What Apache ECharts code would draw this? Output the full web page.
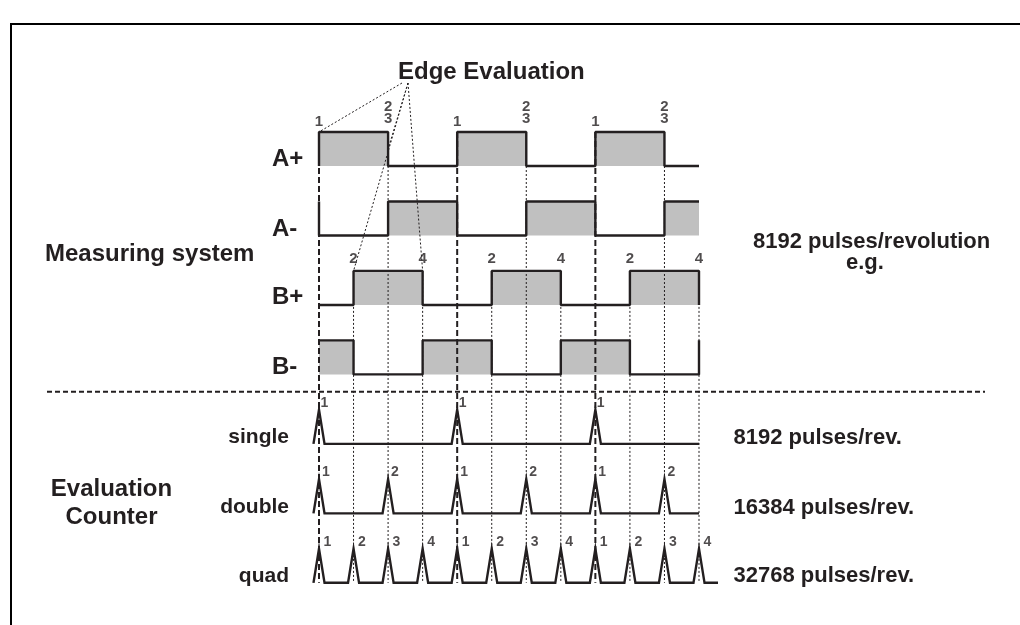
<!DOCTYPE html>
<html><head><meta charset="utf-8">
<script src="https://cdn.jsdelivr.net/npm/echarts@6/dist/echarts.min.js"></script>
<style>html,body{margin:0;padding:0;background:#fff}#c{width:1020px;height:625px}</style>
</head><body><div id="c"></div>
<script>
// ---- data (time in edge units; each unit = one quarter of a signal period) ----
const edgeTimes = [0,1,2,3,4,5,6,7,8,9,10,11];
// signal states: first = state before t=0, then intervals [0,1) ... [10,11), last = state after t=11
const aPlus  = [0, 1,1,0,0,1,1,0,0,1,1,0, 0];
const aMinus = [1, 0,0,1,1,0,0,1,1,0,0,1, 1];
const bPlus  = [0, 0,1,1,0,0,1,1,0,0,1,1, 0];
const bMinus = [1, 1,0,0,1,1,0,0,1,1,0,0, 1];
const signalNames = ['A+','A-','B+','B-'];
const aPlusEdgeTimes  = [0,2,4,6,8,10];
const aPlusEdgeLabels = ['1','2\n3','1','2\n3','1','2\n3'];
const bPlusEdgeTimes  = [1,3,5,7,9,11];
const bPlusEdgeLabels = ['2','4','2','4','2','4'];
const singlePulses = [0,4,8];
const doublePulses = [0,2,4,6,8,10];
const quadPulses   = [0,1,2,3,4,5,6,7,8,9,10,11];
const singleLabels = ['1','1','1'];
const doubleLabels = ['1','2','1','2','1','2'];
const quadLabels   = ['1','2','3','4','1','2','3','4','1','2','3','4'];
const pulseRowEnds = [11, 11, 11.55];
const counterModes = ['single','double','quad'];
const counterRates = ['8192 pulses/rev.','16384 pulses/rev.','32768 pulses/rev.'];
const systemRate = ['8192 pulses/revolution','e.g.'];

// ---- layout / style ----
const HIGH = 0.49;          // signal amplitude in row units
const PW = 0.16;            // half width of a counter pulse
const INK = '#231f20';
const GRAY = '#c0c0c0';
const FONT = "'Liberation Sans', Arial, sans-serif";

function signalPath(states, row){
  const lvl = s => row - s*HIGH;
  const pts = [];
  if (states[0] !== states[1]) pts.push([0, lvl(states[0])]);
  for (let i = 0; i < 11; i++){
    pts.push([edgeTimes[i], lvl(states[i+1])]);
    pts.push([edgeTimes[i] + 1, lvl(states[i+1])]);
  }
  if (states[12] !== states[11]) pts.push([11, lvl(states[12])]);
  return pts;
}
function fillRects(states, row){
  const out = [];
  let start = null;
  for (let i = 0; i < 11; i++){
    const s = states[i+1];
    if (s && start === null) start = i;
    if ((!s || i === 10) && start !== null){
      out.push([start, s && i === 10 ? 11 : i, row]);
      start = null;
    }
  }
  return out;
}
function pulsePath(times, row, end){
  const pts = [];
  times.forEach(t => {
    pts.push([t - PW, row]); pts.push([t, row - HIGH]); pts.push([t + PW, row]);
  });
  pts.push([end, row]);
  return pts;
}

const signals = [aPlus, aMinus, bPlus, bMinus];
const fills = [];
signals.forEach((s, r) => fills.push(...fillRects(s, r)));

// vertical guide lines [t, top, bottom, kind]
const guides = edgeTimes.map(t => {
  if (t % 4 === 0) return [t, -HIGH, 6, 0];
  if (t % 2 === 0) return [t, 0, 6, 1];
  return [t, 2 - HIGH, 6, 1];
});

const series = [];
series.push({
  type: 'custom', z: 1, data: fills, clip: false,
  renderItem: (p, api) => {
    const a = api.coord([api.value(0), api.value(2) - HIGH]);
    const b = api.coord([api.value(1), api.value(2)]);
    return {type: 'rect', shape: {x: a[0], y: a[1], width: b[0]-a[0], height: b[1]-a[1]}, style: {fill: GRAY}};
  }
});
series.push({
  type: 'custom', z: 2, data: guides, clip: false,
  renderItem: (p, api) => {
    const a = api.coord([api.value(0), api.value(1)]);
    const b = api.coord([api.value(0), api.value(2)]);
    const thick = api.value(3) === 0;
    return {type: 'line', shape: {x1: a[0], y1: a[1], x2: b[0], y2: b[1]},
      style: {stroke: INK, lineWidth: thick ? 2 : 1, lineDash: thick ? [6, 3] : [2, 2]}};
  }
});
signals.forEach((s, r) => series.push({
  type: 'line', name: signalNames[r], data: signalPath(s, r), symbol: 'none', clip: false, z: 5,
  lineStyle: {color: INK, width: 2.4}
}));
[[singlePulses, singleLabels], [doublePulses, doubleLabels], [quadPulses, quadLabels]].forEach(([times, labels], k) => {
  const row = 4 + k;
  series.push({type: 'line', name: counterModes[k], data: pulsePath(times, row, pulseRowEnds[k]),
    symbol: 'none', clip: false, z: 5, lineStyle: {color: INK, width: 2.4, join: 'miter'}});
  series.push({type: 'scatter', symbolSize: 1, itemStyle: {color: 'rgba(0,0,0,0)'}, z: 6, clip: false,
    data: times.map((t, i) => ({value: [t, row - HIGH], label: {formatter: labels[i]}})),
    label: {show: true, position: 'right', distance: 1 + k*1.5, offset: [0, -7], color: INK,
      fontFamily: FONT, fontWeight: 'bold', fontSize: 14}
  });
});
series.push({type: 'scatter', symbolSize: 1, itemStyle: {color: 'rgba(0,0,0,0)'}, z: 6, clip: false,
  data: aPlusEdgeTimes.map((t, i) => ({value: [t, -HIGH], label: {formatter: aPlusEdgeLabels[i],
    distance: aPlusEdgeLabels[i].length > 1 ? 7 : 4}})),
  label: {show: true, position: 'top', color: INK, fontFamily: FONT, fontWeight: 'bold', fontSize: 15, lineHeight: 12, align: 'center'}
});
series.push({type: 'scatter', symbolSize: 1, itemStyle: {color: 'rgba(0,0,0,0)'}, z: 6, clip: false,
  data: bPlusEdgeTimes.map((t, i) => ({value: [t, 2 - HIGH], label: {formatter: bPlusEdgeLabels[i]}})),
  label: {show: true, position: 'top', distance: 4, color: INK, fontFamily: FONT, fontWeight: 'bold', fontSize: 15}
});

function txt(text, x, y, align, size){
  return {type: 'text', x: x, y: y, z: 10, style: {text: text, fill: INK, font: 'bold ' + (size || 21) + 'px ' + FONT,
    align: align || 'left', verticalAlign: 'middle'}};
}
const graphics = [
  {type: 'polyline', z: 10, shape: {points: [[11, 625], [11, 24], [1020, 24]]}, style: {stroke: '#000', lineWidth: 2, fill: null}},
  {type: 'line', z: 10, shape: {x1: 47, y1: 391.7, x2: 985, y2: 391.7}, style: {stroke: INK, lineWidth: 2, lineDash: [5, 3]}},
  txt('Edge Evaluation', 398, 72, 'left', 24),
  txt('Measuring system', 45, 254, 'left', 24),
  txt(systemRate[0], 753, 242, 'left', 22),
  txt(systemRate[1], 846, 263, 'left', 22),
  txt('Evaluation', 111.5, 489, 'center', 24),
  txt('Counter', 111.5, 517, 'center', 24)
];
const sigLabelY = [159, 229, 297.5, 367.5];
signalNames.forEach((n, i) => graphics.push(txt(n, 272, sigLabelY[i], 'left', 24)));
const modeY = [437.5, 507.5, 576];
counterModes.forEach((m, i) => {
  graphics.push(txt(m, 289, modeY[i], 'right', 21));
  graphics.push(txt(counterRates[i], 733.5, modeY[i], 'left', 22));
});

const chart = echarts.init(document.getElementById('c'), null, {renderer: 'canvas'});
const U = 380 / 11; // px per edge unit
const option = {
  animation: false,
  backgroundColor: '#fff',
  grid: {left: 319 - U, right: 321 - U, top: 27.06, bottom: 7.44},
  xAxis: {type: 'value', min: -1, max: 12, show: false},
  yAxis: {type: 'value', min: -2, max: 6.5, inverse: true, show: false},
  series: series,
  graphic: graphics
};
chart.setOption(option);
// edge-evaluation pointer lines: from below the heading to edges 1..4 of the first period
const apex = [408, 83];
const targets = [[0, -HIGH], [2, -HIGH/2], [1, 2 - HIGH], [3, 2 - HIGH]];
const ptrs = targets.map((d, i) => {
  const p = chart.convertToPixel({gridIndex: 0}, d);
  return {type: 'line', z: 9, shape: {x1: apex[0] - (i === 0 ? 6 : 0), y1: apex[1], x2: p[0], y2: p[1]},
    style: {stroke: INK, lineWidth: 1, lineDash: [2, 2]}};
});
chart.setOption({graphic: graphics.concat(ptrs)});
</script></body></html>
